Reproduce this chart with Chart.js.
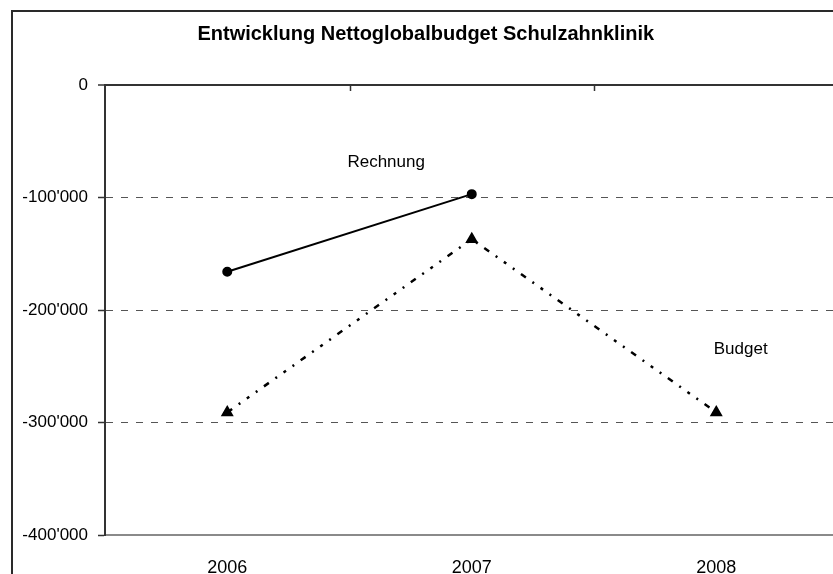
<!DOCTYPE html>
<html>
<head>
<meta charset="utf-8">
<script src="https://cdn.jsdelivr.net/npm/chart.js@4/dist/chart.umd.min.js"></script>
<style>
  html, body { margin: 0; padding: 0; background: #fff; overflow: hidden; }
  #frame { position: absolute; left: 11px; top: 10px; width: 840px; height: 600px; border: 2px solid #2a2a2a; }
  canvas { display: block; }
</style>
</head>
<body>
<div id="frame"><canvas id="chart" width="840" height="600"></canvas></div>
<script>
// --- data ---
const years = ['2006', '2007', '2008'];
const rechnung = [-166000, -97000, null];
const budget = [-291000, -137000, -291000];
const yTicks = [0, -100000, -200000, -300000, -400000];

// series names written next to the lines (category index, value)
const seriesLabels = [
  { text: 'Rechnung', at: [0.65, -68400] },
  { text: 'Budget', at: [2.1, -234700] }
];

const FONT = "'Liberation Sans', Arial, sans-serif";

function fmt(v) {
  const s = String(Math.abs(v)).replace(/\B(?=(\d{3})+(?!\d))/g, "'");
  return v < 0 ? '-' + s : s;
}

// small tick marks hanging from the top axis line at category boundaries,
// plus the series names
const decorPlugin = {
  id: 'decor',
  afterDatasetsDraw(chart) {
    const ctx = chart.ctx;
    const x = chart.scales.x, y = chart.scales.y;
    ctx.save();
    ctx.strokeStyle = '#333';
    ctx.lineWidth = 1.5;
    for (let i = 1; i <= years.length; i++) {
      const px = Math.round(x.getPixelForValue(i - 0.5)) + 0.5;
      ctx.beginPath();
      ctx.moveTo(px, y.top);
      ctx.lineTo(px, y.top + 6);
      ctx.stroke();
    }
    ctx.fillStyle = '#000';
    ctx.font = '17px ' + FONT;
    ctx.textAlign = 'center';
    ctx.textBaseline = 'middle';
    seriesLabels.forEach(l => {
      ctx.fillText(l.text, x.getPixelForValue(l.at[0]), y.getPixelForValue(l.at[1]));
    });
    ctx.restore();
  }
};

new Chart(document.getElementById('chart'), {
  type: 'line',
  data: {
    labels: years,
    datasets: [
      {
        label: 'Rechnung',
        data: rechnung,
        borderColor: '#000',
        backgroundColor: '#000',
        borderWidth: 2,
        pointStyle: 'circle',
        pointRadius: 4,
        fill: false,
        tension: 0
      },
      {
        label: 'Budget',
        data: budget,
        borderColor: '#000',
        backgroundColor: '#000',
        borderWidth: 2.5,
        borderDash: [6, 8, 2, 8, 3, 8, 2, 8],
        pointStyle: 'triangle',
        pointRadius: 5,
        fill: false,
        tension: 0
      }
    ]
  },
  options: {
    responsive: false,
    animation: false,
    layout: { padding: { left: 0, right: 14.5, top: 0, bottom: 37 } },
    plugins: {
      legend: { display: false },
      tooltip: { enabled: false },
      title: {
        display: true,
        text: 'Entwicklung Nettoglobalbudget Schulzahnklinik',
        color: '#000',
        font: { family: FONT, size: 20, weight: 'bold', lineHeight: 1.2 },
        padding: { top: 10, bottom: 39 }
      }
    },
    scales: {
      x: {
        offset: true,
        grid: { display: false },
        border: { display: true, color: '#8a8a8a', width: 2 },
        ticks: { color: '#000', padding: 14, font: { family: FONT, size: 18 } },
        afterFit(scale) { scale.height = 40; }
      },
      y: {
        min: -400000,
        max: 0,
        afterBuildTicks(scale) { scale.ticks = yTicks.map(v => ({ value: v })); },
        grid: {
          color: c => c.tick && c.tick.value === -400000 ? 'rgba(0,0,0,0)' : (c.tick && c.tick.value === 0 ? '#333' : '#555'),
          lineWidth: c => c.tick && c.tick.value === 0 ? 2 : 1,
          tickColor: '#333',
          tickLength: 7,
          tickWidth: 1.5,
          tickBorderDash: []
        },
        border: {
          display: true,
          color: '#333',
          width: 2,
          dash: c => c.tick && c.tick.value === 0 ? [] : [7, 8]
        },
        ticks: {
          color: '#000',
          padding: 10,
          font: { family: FONT, size: 17 },
          callback: v => fmt(v)
        },
        afterFit(scale) { scale.width = 92; }
      }
    }
  },
  plugins: [decorPlugin]
});
</script>
</body>
</html>
